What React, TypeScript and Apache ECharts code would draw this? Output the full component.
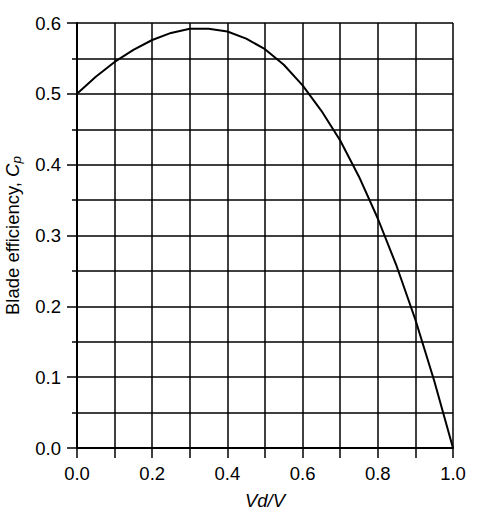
import React, { useEffect, useRef } from "react";
import * as echarts from "echarts";

const speedRatio = [0, 0.05, 0.1, 0.15, 0.2, 0.25, 0.3, 0.35, 0.4, 0.45, 0.5, 0.55, 0.6, 0.65, 0.7, 0.75, 0.8, 0.85, 0.9, 0.95, 1.0];
const bladeEfficiency = [0.5, 0.524, 0.545, 0.562, 0.576, 0.586, 0.592, 0.592, 0.588, 0.578, 0.563, 0.541, 0.512, 0.476, 0.434, 0.383, 0.324, 0.257, 0.181, 0.095, 0.0];

const FONT = "'Liberation Sans', Arial, sans-serif";
const FS = 18.5;

export default function App() {
  const ref = useRef<HTMLDivElement>(null);
  useEffect(() => {
    if (!ref.current) return;
    const chart = echarts.init(ref.current, null, { renderer: "svg" });
    const gridLine = { show: true, lineStyle: { color: "#000", width: 1.5 } };
    chart.setOption({
      animation: false,
      backgroundColor: "#fff",
      grid: { left: 77, top: 23, width: 376, height: 425, containLabel: false, outerBoundsMode: "none" },
      xAxis: {
        type: "value",
        min: 0,
        max: 1,
        interval: 0.2,
        name: "Vd/V",
        nameLocation: "middle",
        nameGap: 43,
        nameTextStyle: { fontFamily: FONT, fontSize: FS, fontStyle: "italic", color: "#000" },
        axisLine: { show: true, lineStyle: { color: "#000", width: 2 } },
        axisTick: { show: true, length: 10, lineStyle: { color: "#000", width: 1.5 } },
        minorTick: { show: true, splitNumber: 2, length: 10, lineStyle: { color: "#000", width: 1.5 } },
        axisLabel: { margin: 16, fontFamily: FONT, fontSize: FS, color: "#000", formatter: (v: number) => v.toFixed(1) },
        splitLine: gridLine,
        minorSplitLine: gridLine,
      },
      yAxis: {
        type: "value",
        min: 0,
        max: 0.6,
        interval: 0.1,
        name: "Blade efficiency, {i|C}{s|p}",
        nameLocation: "middle",
        nameGap: 54,
        nameRotate: 90,
        nameTextStyle: {
          fontFamily: FONT,
          fontSize: FS,
          color: "#000",
          rich: {
            i: { fontFamily: FONT, fontSize: FS, fontStyle: "italic", color: "#000" },
            s: { fontFamily: FONT, fontSize: 13.5, fontStyle: "italic", color: "#000", padding: [7, 0, 0, 0] },
          },
        },
        axisLine: { show: true, lineStyle: { color: "#000", width: 2 } },
        axisTick: { show: true, length: 10, lineStyle: { color: "#000", width: 1.5 } },
        minorTick: { show: true, splitNumber: 2, length: 5, lineStyle: { color: "#000", width: 1.5 } },
        axisLabel: { margin: 16, fontFamily: FONT, fontSize: FS, color: "#000", formatter: (v: number) => v.toFixed(1) },
        splitLine: gridLine,
        minorSplitLine: gridLine,
      },
      series: [
        {
          type: "line",
          data: speedRatio.map((x, i) => [x, bladeEfficiency[i]]),
          showSymbol: false,
          smooth: false,
          lineStyle: { color: "#000", width: 2 },
        },
      ],
    });
    return () => chart.dispose();
  }, []);
  return <div ref={ref} style={{ position: "fixed", left: 0, top: 0, width: 478, height: 516 }} />;
}
